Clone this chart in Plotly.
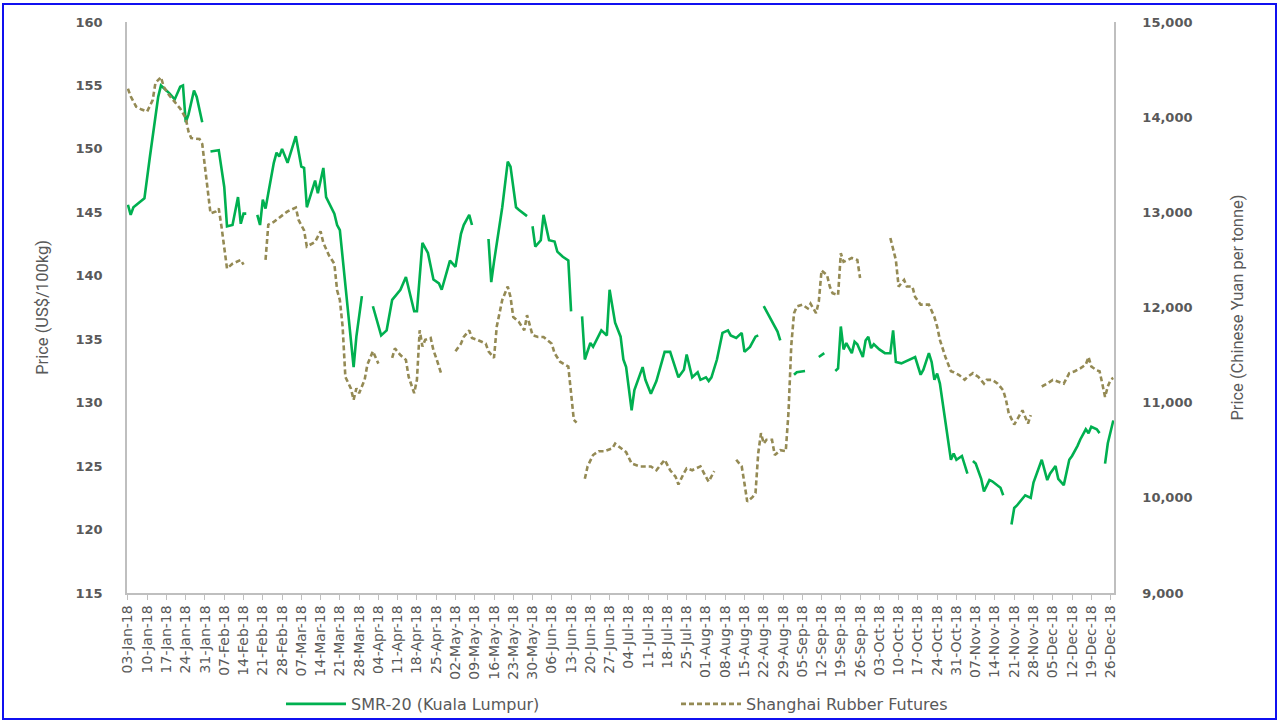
import plotly.graph_objects as go

# ---------------- data ----------------
smr_dates = [
    "2018-01-03", "2018-01-04", "2018-01-05", "2018-01-09", "2018-01-11", "2018-01-14", "2018-01-15",
    "2018-01-17", "2018-01-18", "2018-01-20", "2018-01-22", "2018-01-23", "2018-01-24", "2018-01-25",
    "2018-01-27", "2018-01-28", "2018-01-30", "2018-01-31",
    "2018-02-02", "2018-02-05", "2018-02-07", "2018-02-08", "2018-02-10", "2018-02-12", "2018-02-13",
    "2018-02-14", "2018-02-15", "2018-02-17",
    "2018-02-19", "2018-02-20", "2018-02-21", "2018-02-22", "2018-02-23", "2018-02-25", "2018-02-26",
    "2018-02-27", "2018-02-28", "2018-03-02", "2018-03-05", "2018-03-07", "2018-03-08", "2018-03-09",
    "2018-03-12", "2018-03-13", "2018-03-15", "2018-03-16", "2018-03-19", "2018-03-20", "2018-03-21",
    "2018-03-26", "2018-03-27", "2018-03-29", "2018-03-31",
    "2018-04-02", "2018-04-03", "2018-04-05", "2018-04-07", "2018-04-09", "2018-04-12", "2018-04-14",
    "2018-04-17", "2018-04-18", "2018-04-20", "2018-04-22", "2018-04-24", "2018-04-26", "2018-04-27",
    "2018-04-29", "2018-04-30", "2018-05-02", "2018-05-04", "2018-05-05", "2018-05-07", "2018-05-08",
    "2018-05-10",
    "2018-05-14", "2018-05-15", "2018-05-16", "2018-05-19", "2018-05-21", "2018-05-22", "2018-05-24",
    "2018-05-25", "2018-05-28", "2018-05-29",
    "2018-05-30", "2018-05-31", "2018-06-02", "2018-06-03", "2018-06-05", "2018-06-07", "2018-06-08",
    "2018-06-10", "2018-06-12", "2018-06-13", "2018-06-15",
    "2018-06-17", "2018-06-18", "2018-06-20", "2018-06-21", "2018-06-24", "2018-06-26", "2018-06-27",
    "2018-06-29", "2018-07-01", "2018-07-02", "2018-07-03", "2018-07-05", "2018-07-06", "2018-07-09",
    "2018-07-10", "2018-07-12", "2018-07-14", "2018-07-17", "2018-07-19", "2018-07-22", "2018-07-24",
    "2018-07-25", "2018-07-27", "2018-07-29", "2018-07-30", "2018-08-01", "2018-08-02", "2018-08-03",
    "2018-08-05", "2018-08-07", "2018-08-09", "2018-08-10", "2018-08-12", "2018-08-14", "2018-08-15",
    "2018-08-17", "2018-08-19", "2018-08-20", "2018-08-21",
    "2018-08-22", "2018-08-25", "2018-08-27", "2018-08-28", "2018-08-30",
    "2018-09-02", "2018-09-03", "2018-09-06", "2018-09-08",
    "2018-09-11", "2018-09-13", "2018-09-15",
    "2018-09-17", "2018-09-18", "2018-09-19", "2018-09-20", "2018-09-21", "2018-09-23", "2018-09-24",
    "2018-09-25", "2018-09-27", "2018-09-28", "2018-09-29", "2018-09-30", "2018-10-01", "2018-10-03",
    "2018-10-05", "2018-10-07", "2018-10-08", "2018-10-09", "2018-10-11", "2018-10-14", "2018-10-16",
    "2018-10-18", "2018-10-19", "2018-10-21", "2018-10-22", "2018-10-23", "2018-10-24", "2018-10-25",
    "2018-10-27", "2018-10-29", "2018-10-30", "2018-10-31", "2018-11-02", "2018-11-04", "2018-11-05",
    "2018-11-06", "2018-11-07", "2018-11-09", "2018-11-10", "2018-11-12", "2018-11-13", "2018-11-16",
    "2018-11-17", "2018-11-18",
    "2018-11-20", "2018-11-21", "2018-11-22", "2018-11-24", "2018-11-25", "2018-11-27", "2018-11-28",
    "2018-12-01", "2018-12-03", "2018-12-04", "2018-12-06", "2018-12-07", "2018-12-09", "2018-12-11",
    "2018-12-12", "2018-12-14", "2018-12-15", "2018-12-17", "2018-12-18", "2018-12-19", "2018-12-21",
    "2018-12-22", "2018-12-23",
    "2018-12-24", "2018-12-25", "2018-12-27",
]
smr_values = [
    145.6, 144.8, 145.4, 146.1, 149.4, 154.1, 155.0,
    154.6, 154.4, 153.9, 154.9, 155.0, 152.1, 152.7,
    154.6, 154.1, 152.1, None,
    149.8, 149.9, 147.0, 143.9, 144.0, 146.2, 144.1,
    144.9, 144.9, None,
    144.8, 144.0, 146.0, 145.3, 146.5, 148.9, 149.7,
    149.4, 150.0, 148.9, 151.0, 148.6, 148.5, 145.4,
    147.5, 146.5, 148.5, 146.2, 144.9, 144.0, 143.6,
    132.8, 135.2, 138.4, None,
    137.6, 136.8, 135.3, 135.7, 138.1, 138.9, 139.9,
    137.2, 137.2, 142.6, 141.8, 139.7, 139.4, 138.9,
    140.5, 141.2, 140.7, 143.3, 144.0, 144.8, 144.0,
    None,
    142.9, 139.5, 141.1, 145.4, 149.0, 148.6, 145.4,
    145.2, 144.7, None,
    143.9, 142.3, 142.8, 144.8, 142.8, 142.7, 141.9,
    141.5, 141.2, 137.2, None,
    136.8, 133.4, 134.7, 134.4, 135.7, 135.3, 138.9,
    136.3, 135.2, 133.4, 132.8, 129.4, 131.0, 132.8,
    131.8, 130.7, 131.7, 134.0, 134.0, 132.0, 132.6,
    133.8, 132.0, 132.4, 131.8, 132.0, 131.7, 132.0,
    133.4, 135.5, 135.7, 135.3, 135.1, 135.5, 134.0,
    134.4, 135.2, 135.3, None,
    137.6, 136.4, 135.6, 134.9, None,
    132.2, 132.4, 132.5, None,
    133.6, 133.9, None,
    132.5, 132.7, 136.0, 134.2, 134.7, 133.9, 134.8,
    134.6, 133.6, 134.9, 135.2, 134.3, 134.6, 134.2,
    133.9, 133.9, 135.7, 133.2, 133.1, 133.4, 133.6,
    132.2, 132.6, 133.9, 133.2, 131.8, 132.3, 131.5,
    128.6, 125.5, 126.0, 125.5, 125.8, 124.4, None,
    125.4, 125.2, 124.0, 123.0, 123.9, 123.8, 123.3,
    122.7, None,
    120.4, 121.7, 121.9, 122.5, 122.7, 122.5, 123.7,
    125.5, 123.9, 124.4, 125.0, 124.0, 123.5, 125.5,
    125.8, 126.6, 127.1, 127.9, 127.6, 128.1, 127.9,
    127.6, None,
    125.2, 126.8, 128.6,
]

shfe_dates = [
    "2018-01-03", "2018-01-04", "2018-01-06", "2018-01-08", "2018-01-10", "2018-01-12", "2018-01-13",
    "2018-01-15", "2018-01-16", "2018-01-18", "2018-01-20", "2018-01-22", "2018-01-24", "2018-01-25",
    "2018-01-26", "2018-01-29", "2018-01-30", "2018-01-31", "2018-02-01", "2018-02-02", "2018-02-04",
    "2018-02-05", "2018-02-06", "2018-02-07", "2018-02-08", "2018-02-10", "2018-02-13", "2018-02-14",
    "2018-02-17",
    "2018-02-22", "2018-02-23", "2018-02-25", "2018-02-28", "2018-03-02", "2018-03-05", "2018-03-06",
    "2018-03-08", "2018-03-09", "2018-03-12", "2018-03-14", "2018-03-15", "2018-03-17", "2018-03-19",
    "2018-03-20", "2018-03-21", "2018-03-22", "2018-03-23", "2018-03-25", "2018-03-26", "2018-03-27",
    "2018-03-28", "2018-03-30", "2018-03-31", "2018-04-02", "2018-04-04", "2018-04-06",
    "2018-04-09", "2018-04-10", "2018-04-12", "2018-04-14", "2018-04-15", "2018-04-17", "2018-04-18",
    "2018-04-19", "2018-04-20", "2018-04-21", "2018-04-23", "2018-04-24", "2018-04-25", "2018-04-26",
    "2018-04-27", "2018-04-30",
    "2018-05-02", "2018-05-04", "2018-05-05", "2018-05-07", "2018-05-08", "2018-05-10", "2018-05-13",
    "2018-05-14", "2018-05-16", "2018-05-17", "2018-05-19", "2018-05-21", "2018-05-22", "2018-05-23",
    "2018-05-25", "2018-05-27", "2018-05-28", "2018-05-30", "2018-06-01", "2018-06-03", "2018-06-06",
    "2018-06-07", "2018-06-09", "2018-06-12", "2018-06-13", "2018-06-14", "2018-06-15", "2018-06-17",
    "2018-06-18", "2018-06-19", "2018-06-21", "2018-06-23", "2018-06-25", "2018-06-28", "2018-06-29",
    "2018-07-01", "2018-07-03", "2018-07-05", "2018-07-08", "2018-07-12", "2018-07-14", "2018-07-17",
    "2018-07-19", "2018-07-21", "2018-07-22", "2018-07-24", "2018-07-25", "2018-07-27", "2018-07-30",
    "2018-08-01", "2018-08-02", "2018-08-04", "2018-08-08",
    "2018-08-12", "2018-08-14", "2018-08-15", "2018-08-16", "2018-08-18", "2018-08-19", "2018-08-20",
    "2018-08-21", "2018-08-22", "2018-08-23", "2018-08-25", "2018-08-26", "2018-08-28", "2018-08-30",
    "2018-08-31", "2018-09-01", "2018-09-02", "2018-09-03", "2018-09-05", "2018-09-07", "2018-09-08",
    "2018-09-10", "2018-09-11", "2018-09-12", "2018-09-14", "2018-09-15", "2018-09-16", "2018-09-18",
    "2018-09-19", "2018-09-20", "2018-09-23", "2018-09-25", "2018-09-26", "2018-10-01",
    "2018-10-07", "2018-10-09", "2018-10-10", "2018-10-12", "2018-10-13", "2018-10-15", "2018-10-16",
    "2018-10-18", "2018-10-19", "2018-10-21", "2018-10-23", "2018-10-24", "2018-10-25", "2018-10-27",
    "2018-10-29", "2018-10-30", "2018-11-01", "2018-11-03", "2018-11-04", "2018-11-06", "2018-11-08",
    "2018-11-10", "2018-11-11", "2018-11-13", "2018-11-15", "2018-11-17", "2018-11-18", "2018-11-19",
    "2018-11-21", "2018-11-22", "2018-11-24", "2018-11-25", "2018-11-26", "2018-11-27", "2018-11-29",
    "2018-12-01", "2018-12-03", "2018-12-05", "2018-12-07", "2018-12-09", "2018-12-11", "2018-12-13",
    "2018-12-15", "2018-12-17", "2018-12-18", "2018-12-19", "2018-12-21", "2018-12-22", "2018-12-23",
    "2018-12-24", "2018-12-25", "2018-12-26", "2018-12-27",
]
shfe_values = [
    14300, 14220, 14110, 14080, 14060, 14180, 14360,
    14420, 14320, 14230, 14160, 14090, 13990, 13850,
    13780, 13770, 13720, 13480, 13200, 12990, 13010,
    13040, 12850, 12600, 12410, 12460, 12500, 12450,
    None,
    12500, 12870, 12900, 12970, 13010, 13050, 12920,
    12810, 12640, 12690, 12800, 12680, 12550, 12460,
    12180, 12080, 11800, 11270, 11150, 11030, 11150,
    11100, 11240, 11400, 11540, 11410, None,
    11470, 11570, 11500, 11450, 11270, 11100, 11240,
    11760, 11590, 11660, 11680, 11550, 11470, 11380,
    11290, None,
    11540, 11620, 11690, 11760, 11680, 11660, 11620,
    11540, 11470, 11800, 12080, 12220, 12110, 11900,
    11850, 11760, 11920, 11710, 11690, 11690, 11620,
    11520, 11430, 11380, 11100, 10820, 10790, None,
    10200, 10330, 10450, 10490, 10490, 10520, 10570,
    10520, 10480, 10360, 10330, 10330, 10290, 10400,
    10290, 10220, 10140, 10260, 10310, 10290, 10330,
    10220, 10170, 10280, None,
    10400, 10330, 10150, 9960, 10010, 10050, 10470,
    10680, 10570, 10610, 10610, 10450, 10500, 10490,
    10900, 11600, 11940, 12010, 12030, 11990, 12040,
    11940, 12060, 12390, 12340, 12220, 12150, 12130,
    12570, 12480, 12520, 12500, 12310, None,
    12730, 12500, 12220, 12290, 12220, 12220, 12110,
    12030, 12030, 12030, 11900, 11800, 11660, 11480,
    11330, 11320, 11290, 11240, 11270, 11310, 11270,
    11200, 11240, 11240, 11200, 11130, 11030, 10890,
    10770, 10820, 10920, 10850, 10780, 10870, None,
    11170, 11200, 11240, 11220, 11200, 11310, 11330,
    11360, 11400, 11480, 11380, 11340, 11330, 11200,
    11060, 11170, 11240, 11260,
]

smr_name = "SMR-20 (Kuala Lumpur)"
shfe_name = "Shanghai Rubber Futures"
left_title = "Price (US$/100kg)"
right_title = "Price (Chinese Yuan per tonne)"

# ---------------- figure ----------------
GREEN = "#00B050"
OLIVE = "#948A54"
TXT = "#595959"
AXIS = "#BFBFBF"
TITLE_FONT = "Liberation Sans Narrow, Roboto"

fig = go.Figure()
fig.add_trace(go.Scatter(
    x=smr_dates, y=smr_values, name=smr_name, mode="lines",
    line=dict(color=GREEN, width=2.6), connectgaps=False, yaxis="y",
))
fig.add_trace(go.Scatter(
    x=shfe_dates, y=shfe_values, name=shfe_name, mode="lines",
    line=dict(color=OLIVE, width=2.6, dash="5px,3px"), connectgaps=False, yaxis="y2",
))

W, H = 1279, 722
L, R, T, B = 127, 165, 22, 129
pw, ph = W - L - R, H - T - B

def px_x(px):
    return (px - L) / pw

def px_y(py):
    return (H - B - py) / ph

fig.update_layout(
    width=W, height=H,
    margin=dict(l=L, r=R, t=T, b=B, autoexpand=False),
    paper_bgcolor="white", plot_bgcolor="white",
    font=dict(family="DejaVu Sans", color=TXT, size=12),
    showlegend=True,
    legend=dict(
        orientation="h", xref="container", yref="container",
        x=281 / W, y=1 - 704 / H, xanchor="left", yanchor="middle",
        font=dict(family="DejaVu Sans", size=16, color=TXT),
        entrywidth=320, entrywidthmode="pixels", itemwidth=60,
        bgcolor="rgba(0,0,0,0)",
    ),
    xaxis=dict(
        type="date",
        range=["2018-01-02 16:00", "2018-12-27 06:00"],
        tickmode="linear", tick0="2018-01-03", dtick=7 * 86400000,
        tickformat="%d-%b-%y", tickangle=-90,
        tickfont=dict(family="DejaVu Sans", size=14, color=TXT),
        ticks="outside", ticklen=5, tickcolor=AXIS,
        showline=True, linecolor=AXIS, linewidth=1.5,
        showgrid=False, zeroline=False,
    ),
    yaxis=dict(
        range=[115, 160], tickmode="linear", tick0=115, dtick=5,
        tickfont=dict(family="DejaVu Sans", size=13, color=TXT, weight="bold"),
        ticks="", ticklabelstandoff=20,
        showline=True, linecolor=AXIS, linewidth=1.5,
        showgrid=False, zeroline=False,
        title=dict(text=left_title, standoff=23,
                   font=dict(family=TITLE_FONT, size=16.5, color=TXT)),
    ),
    yaxis2=dict(
        range=[9000, 15000], tickmode="linear", tick0=9000, dtick=1000, tickformat=",",
        overlaying="y", side="right",
        tickfont=dict(family="DejaVu Sans", size=13, color=TXT, weight="bold"),
        ticks="", ticklabelstandoff=24,
        showline=True, linecolor=AXIS, linewidth=1.5,
        showgrid=False, zeroline=False,
        title=dict(text=right_title, standoff=40,
                   font=dict(family=TITLE_FONT, size=16.5, color=TXT)),
    ),
    shapes=[dict(
        type="rect", xref="paper", yref="paper", layer="above",
        x0=px_x(3), x1=px_x(1276), y0=px_y(719), y1=px_y(4),
        line=dict(color="#1010F0", width=2), fillcolor="rgba(0,0,0,0)",
    )],
)

fig.write_html(
    "out.html",
    config={"displayModeBar": False},
    post_script="document.body.style.margin='0px';document.body.style.overflow='hidden';",
)
